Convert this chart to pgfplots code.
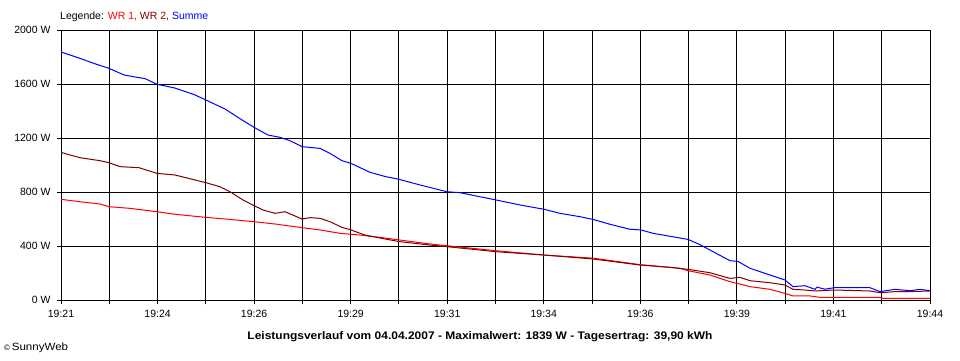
\documentclass[border=0pt]{standalone}
\usepackage{pgfplots}
\pgfplotsset{compat=1.18}
\usepackage{fontspec}
\setmainfont{Liberation Sans}
\definecolor{wrone}{RGB}{255,0,0}
\definecolor{wrtwo}{RGB}{128,0,0}
\definecolor{summe}{RGB}{0,0,255}
\begin{document}
\begin{tikzpicture}
\path[fill=white] (0pt,0pt) rectangle (960pt,360pt);
\begin{axis}[at={(61pt,60pt)}, anchor=south west, scale only axis,
  width=869pt, height=270pt,
  xmin=61, xmax=930, ymin=0, ymax=2000,
  xtick={61,109.28,157.56,205.83,254.11,302.39,350.67,398.94,447.22,495.5,543.78,592.06,640.33,688.61,736.89,785.17,833.44,881.72,930},
  xticklabels={19:21,,19:24,,19:26,,19:29,,19:31,,19:34,,19:36,,19:39,,19:41,,19:44},
  ytick={0,400,800,1200,1600,2000},
  yticklabels={0 W,400 W,800 W,1200 W,1600 W,2000 W},
  grid=major, major grid style={black, line width=1pt},
  axis line style={black, line width=1pt},
  tick align=outside, major tick length=4pt, tick style={black, line width=1pt},
  xtick pos=bottom, ytick pos=left,
  ticklabel style={font=\fontsize{10.5}{12}\selectfont},
  yticklabel style={xshift=-3pt},
  xticklabel style={yshift=-3pt},
  /pgf/number format/assume math mode=true,
  every axis plot/.append style={line width=1pt, sharp plot, no marks},
]
\addplot[color=wrone] coordinates {
(61,746) (80,728) (100,711) (109,691) (130,679) (157,654) (175,635) (206,612)
(230,597) (254,580) (275,563) (302,536) (320,519) (340,494) (360,481) (380,464)
(400,444) (430,415) (447,402) (496,365) (544,333) (593,310) (640,262) (680,235)
(688,217) (710,185) (730,136) (750,99) (770,79) (785,49) (793,30) (810,30)
(820,20) (880,20) (883,12) (930,12)
};
\addplot[color=wrtwo] coordinates {
(61,1094) (70,1074) (80,1054) (100,1032) (109,1017) (120,988) (139,980) (157,938)
(175,926) (195,889) (206,869) (220,839) (230,802) (243,741) (254,699) (263,667)
(275,642) (285,654) (302,600) (310,610) (320,605) (330,580) (342,538) (351,519)
(365,481) (385,452) (400,432) (430,407) (447,395) (496,358) (544,333) (593,304)
(640,259) (670,242) (688,227) (710,202) (730,160) (740,168) (750,143) (770,128)
(785,111) (793,79) (805,74) (815,67) (834,74) (870,67) (880,54) (895,62)
(910,62) (930,67)
};
\addplot[color=summe] coordinates {
(61,1837) (80,1790) (95,1750) (109,1716) (124,1667) (135,1652) (145,1640) (157,1598)
(175,1570) (195,1519) (206,1481) (225,1415) (240,1343) (254,1279) (268,1222) (280,1205)
(290,1180) (302,1136) (320,1123) (330,1086) (342,1032) (351,1012) (370,946) (385,915)
(399,894) (420,852) (447,802) (460,795) (480,765) (496,741) (520,704) (544,672)
(560,642) (580,617) (593,597) (610,561) (630,524) (641,519) (653,494) (688,449)
(700,410) (710,370) (730,291) (738,286) (750,235) (770,185) (785,148) (793,99)
(805,106) (815,79) (817,95) (825,80) (834,91) (870,91) (880,62) (895,79)
(910,69) (920,79) (930,69)
};
\end{axis}
\node[anchor=west, inner sep=0pt, font=\fontsize{10.5}{12}\selectfont] at (60pt,343pt)
  {Legende: \textcolor{wrone}{WR 1,} \textcolor{wrtwo}{WR 2,} \textcolor{summe}{Summe}};
\node[inner sep=0pt, font=\fontsize{11}{13}\selectfont\bfseries] at (480pt,23pt)
  {\scalebox{1.09}[1]{Leistungsverlauf vom 04.04.2007 - Maximalwert: 1839 W - Tagesertrag: 39,90 kWh}};
\node[anchor=west, inner sep=0pt, font=\fontsize{10.5}{12}\selectfont] at (4pt,12pt)
  {{\fontsize{8}{9}\selectfont\textcopyright}\,\scalebox{1.1}[1]{SunnyWeb}};
\end{tikzpicture}
\end{document}
